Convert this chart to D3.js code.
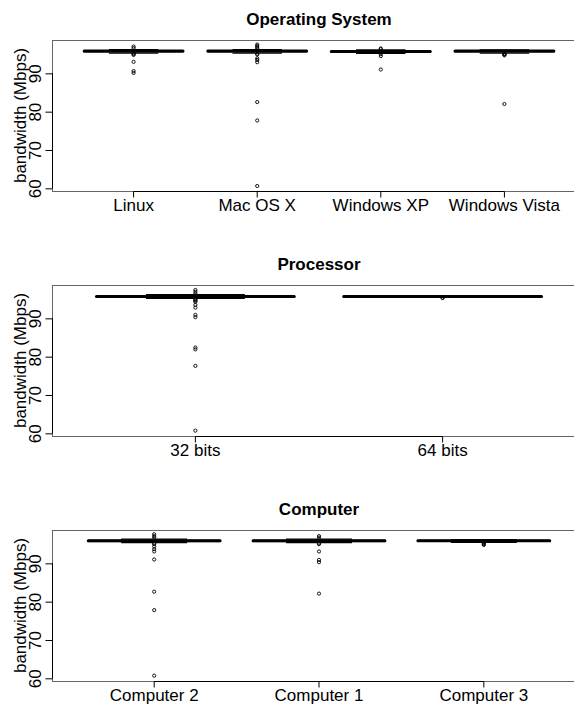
<!DOCTYPE html>
<html>
<head>
<meta charset="utf-8">
<script src="https://d3js.org/d3.v7.min.js"></script>
<style>
body { margin: 0; background: #fff; }
svg { display: block; }
text { font-family: "Liberation Sans", Arial, Helvetica, sans-serif; fill: #000; }
</style>
</head>
<body>
<script>
// shared y axis
var yTicks = [60, 70, 80, 90];
var yDomain = [59.3, 98.7];
var yLabel = "bandwidth (Mbps)";

// Operating System
var osNames = ["Linux", "Mac OS X", "Windows XP", "Windows Vista"];
var osQ1 = [95.6, 95.6, 95.5, 95.6];
var osMedian = [95.8, 95.8, 95.7, 95.8];
var osQ3 = [95.9, 95.9, 95.9, 95.9];
var osLow = [95.3, 95.3, 95.2, 95.3];
var osHigh = [96.2, 96.2, 96.1, 96.1];
var osOutliers = [
  [97.0, 96.6, 95.2, 95.0, 94.8, 93.0, 90.6, 90.1],
  [97.5, 97.2, 96.8, 96.5, 95.1, 94.9, 93.9, 93.5, 92.9, 82.5, 77.7, 60.6],
  [96.5, 96.3, 95.0, 94.5, 91.0],
  [95.1, 95.0, 94.9, 94.7, 82.0]
];

// Processor
var cpuNames = ["32 bits", "64 bits"];
var cpuQ1 = [95.6, 95.6];
var cpuMedian = [95.7, 95.7];
var cpuQ3 = [95.9, 95.8];
var cpuLow = [95.2, 95.5];
var cpuHigh = [96.2, 95.9];
var cpuOutliers = [
  [97.4, 96.9, 96.4, 95.0, 94.8, 94.6, 94.3, 93.5, 92.8, 90.9, 90.3, 82.4, 81.9, 77.6, 60.7],
  [95.4, 95.3]
];

// Computer
var pcNames = ["Computer 2", "Computer 1", "Computer 3"];
var pcQ1 = [95.7, 95.7, 95.8];
var pcMedian = [95.9, 95.9, 95.9];
var pcQ3 = [96.0, 96.0, 96.0];
var pcLow = [95.4, 95.4, 95.5];
var pcHigh = [96.3, 96.3, 96.2];
var pcOutliers = [
  [97.6, 97.1, 96.7, 95.2, 95.0, 94.4, 93.7, 93.1, 91.0, 82.6, 77.8, 60.7],
  [97.1, 96.7, 95.2, 95.0, 93.1, 90.9, 90.3, 82.1],
  [95.4, 95.2, 95.0, 94.8]
];

var panels = [
  {title: "Operating System", names: osNames, q1: osQ1, med: osMedian, q3: osQ3, lo: osLow, hi: osHigh, out: osOutliers, outer: 0.26},
  {title: "Processor", names: cpuNames, q1: cpuQ1, med: cpuMedian, q3: cpuQ3, lo: cpuLow, hi: cpuHigh, out: cpuOutliers, outer: 0.18},
  {title: "Computer", names: pcNames, q1: pcQ1, med: pcMedian, q3: pcQ3, lo: pcLow, hi: pcHigh, out: pcOutliers, outer: 0.22}
];

var width = 574, height = 704;
var left = 52, right = 586, panelTop = 40, panelH = 151, panelGap = 245;

var svg = d3.select("body").append("svg")
  .attr("width", width)
  .attr("height", height);

panels.forEach(function(p, k) {
  var top = panelTop + k * panelGap;
  var bottom = top + panelH;

  var x = d3.scaleBand().domain(p.names).range([left, right])
    .paddingInner(0.2).paddingOuter(p.outer);
  var y = d3.scaleLinear().domain(yDomain).range([bottom, top]);

  var g = svg.append("g");

  // frame
  g.append("rect")
    .attr("x", left + 0.5).attr("y", top + 0.5)
    .attr("width", right - left).attr("height", panelH)
    .attr("fill", "none").attr("stroke", "#666").attr("stroke-width", 1);

  // title
  g.append("text")
    .attr("x", (left + right) / 2).attr("y", top - 15)
    .attr("text-anchor", "middle")
    .style("font-size", "17px").style("font-weight", "bold")
    .text(p.title);

  // y axis
  var ya = g.append("g").attr("transform", "translate(" + (left + 0.5) + ",0)")
    .call(d3.axisLeft(y).tickValues(yTicks).tickSize(7).tickSizeOuter(0));
  ya.select(".domain").attr("d", "M0," + y(yTicks[0]) + "V" + y(yTicks[yTicks.length - 1]));
  ya.selectAll(".tick text")
    .attr("x", 0).attr("y", 0).attr("dy", null)
    .attr("transform", "translate(-12,0) rotate(-90)")
    .attr("text-anchor", "middle")
    .style("font-size", "17px").style("font-family", "Liberation Sans, Arial, sans-serif");

  // y label
  g.append("text")
    .attr("transform", "translate(26," + (top + bottom) / 2 + ") rotate(-90)")
    .attr("text-anchor", "middle")
    .style("font-size", "17px")
    .text(yLabel);

  // x axis
  var xa = g.append("g").attr("transform", "translate(0," + (bottom + 0.5) + ")")
    .call(d3.axisBottom(x).tickSize(6).tickSizeOuter(0).tickPadding(1));
  var first = x(p.names[0]) + x.bandwidth() / 2, last = x(p.names[p.names.length - 1]) + x.bandwidth() / 2;
  xa.select(".domain").attr("d", "M" + first + ",0H" + last);
  xa.selectAll(".tick text").style("font-size", "17px").style("font-family", "Liberation Sans, Arial, sans-serif");

  // boxes
  p.names.forEach(function(name, i) {
    var cx = x(name) + x.bandwidth() / 2;
    var bw = x.bandwidth();

    // whiskers
    g.append("line").attr("x1", cx).attr("x2", cx).attr("y1", y(p.q3[i])).attr("y2", y(p.hi[i]))
      .attr("stroke", "#000").attr("stroke-dasharray", "3,3");
    g.append("line").attr("x1", cx).attr("x2", cx).attr("y1", y(p.q1[i])).attr("y2", y(p.lo[i]))
      .attr("stroke", "#000").attr("stroke-dasharray", "3,3");
    // staples
    [p.lo[i], p.hi[i]].forEach(function(v) {
      g.append("line").attr("x1", cx - bw / 4).attr("x2", cx + bw / 4)
        .attr("y1", y(v)).attr("y2", y(v))
        .attr("stroke", "#000").attr("stroke-width", 1.3);
    });
    // box
    g.append("rect")
      .attr("x", cx - bw / 2).attr("width", bw)
      .attr("y", y(p.q3[i])).attr("height", y(p.q1[i]) - y(p.q3[i]))
      .attr("fill", "none").attr("stroke", "#000").attr("stroke-width", 1.3);
    // median
    g.append("line").attr("x1", cx - bw / 2).attr("x2", cx + bw / 2)
      .attr("y1", y(p.med[i])).attr("y2", y(p.med[i]))
      .attr("stroke", "#000").attr("stroke-width", 3).attr("stroke-linecap", "round");
    // outliers
    g.selectAll(null).data(p.out[i]).enter().append("circle")
      .attr("cx", cx).attr("cy", function(d) { return y(d); })
      .attr("r", 1.6)
      .attr("fill", "none").attr("stroke", "#000").attr("stroke-width", 0.9);
  });
});
</script>
</body>
</html>
